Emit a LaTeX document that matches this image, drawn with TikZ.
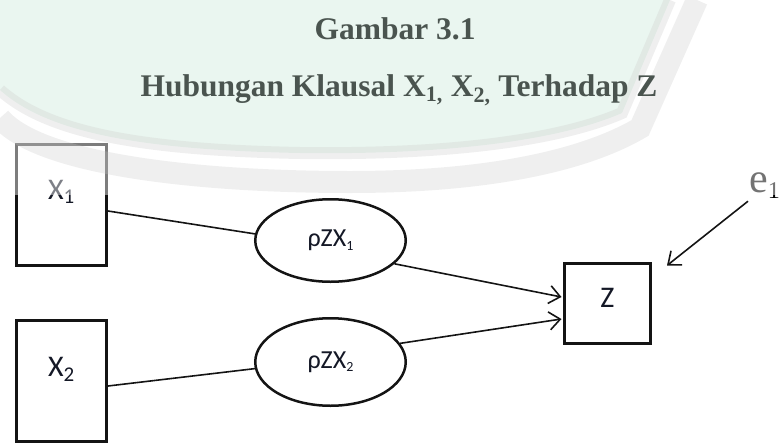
\documentclass[tikz,border=0pt]{standalone}
\usepackage{fontspec}
\setmainfont{Liberation Serif}
\newfontfamily\calib{Carlito}
\usetikzlibrary{arrows.meta,shapes.geometric}
\definecolor{ink}{RGB}{20,24,38}
\definecolor{linecol}{RGB}{20,20,20}
\definecolor{titlegray}{RGB}{74,84,79}
\definecolor{mintc}{RGB}{210,236,222}
\definecolor{bandc}{RGB}{200,200,200}
\newcommand\smallsub[1]{\raisebox{-3.5pt}{\fontsize{14}{14}\selectfont #1}}
\begin{document}
\begin{tikzpicture}[x=1pt,y=-1pt,
  boxnode/.style={draw=linecol, line width=3pt, minimum width=90pt, minimum height=121pt, inner sep=0pt},
  zbox/.style={draw=linecol, line width=3pt, minimum width=86pt, minimum height=80pt, inner sep=0pt},
  ovalnode/.style={ellipse, draw=linecol, line width=2.5pt, minimum width=150.5pt, inner sep=0pt, text=ink,
     font=\calib\fontsize{26}{26}\selectfont},
  boxlabel/.style={text=ink, inner sep=0pt, anchor=base, font=\calib\fontsize{30}{30}\selectfont},
  conn/.style={draw=linecol, line width=1.6pt},
  arr/.style={conn, -{Straight Barb[length=11pt,width=18pt,line width=1.6pt]}},
  titletext/.style={text=titlegray, inner sep=0pt, anchor=base, font=\bfseries\fontsize{31.5}{31.5}\selectfont}
]
\useasboundingbox (0,0) rectangle (782,442);
\clip (0,0) rectangle (782,442);

% boxes
\node[boxnode] (x1) at (61.5,205) {};
\node[boxnode] (x2) at (61.5,381) {};
\node[zbox] (z) at (607.5,303.5) {};
\node[boxlabel] (x1t) at ([shift={(0,-6)}]x1.center) {X\textsubscript{1}};
\node[boxlabel] (x2t) at ([shift={(0,-5)}]x2.center) {X\textsubscript{2}};
\node[boxlabel] (zt) at ([shift={(0,3.5)}]z.center) {Z};

% ellipses
\node[ovalnode, minimum height=82.5pt] (p1) at (330.5,240.5) {ρZX\smallsub{1}};
\node[ovalnode, minimum height=87.5pt] (p2) at (330.5,362) {ρZX\smallsub{2}};

% error term
\node[text=black, inner sep=0pt, anchor=base west] (e1) at (749,192)
  {\fontsize{42}{42}\selectfont e\raisebox{-6pt}{\fontsize{24}{24}\selectfont 1}};

% connectors
\draw[conn] ([shift={(0,6)}]x1.east) -- (p1.175);
\draw[conn] ([shift={(0,5)}]x2.east) -- (p2.185);
\draw[arr] (p1.340) -- ([shift={(-1.5,-6.5)}]z.west);
\draw[arr] (p2.15) -- ([shift={(-1.5,15.5)}]z.west);
\draw[arr] ([shift={(-1,3)}]e1.south west) -- ([shift={(15,3.5)}]z.north east);

% watermark overlay
\fill[white, opacity=0.45] (0,0) rectangle (782,195);
\fill[mintc, opacity=0.45] (0,0) -- (0,90) .. controls (50,135) and (150,150) .. (300,153)
   .. controls (450,155) and (560,140) .. (622,113) -- (670,0) -- cycle;
\draw[bandc, opacity=0.28, line width=12pt] (0,90) .. controls (50,135) and (150,150) .. (300,153)
   .. controls (450,155) and (560,140) .. (622,113) -- (670,0);
\draw[bandc, opacity=0.28, line width=22pt] (0,118) .. controls (40,165) and (200,182) .. (350,182)
   .. controls (480,182) and (580,163) .. (640,128) -- (697,0);

% title
\node[titletext] (t1) at (395,39) {Gambar 3.1};
\node[titletext] (t2) at (399,96) {Hubungan Klausal X\textsubscript{1,} X\textsubscript{2,} Terhadap Z};
\end{tikzpicture}
\end{document}
